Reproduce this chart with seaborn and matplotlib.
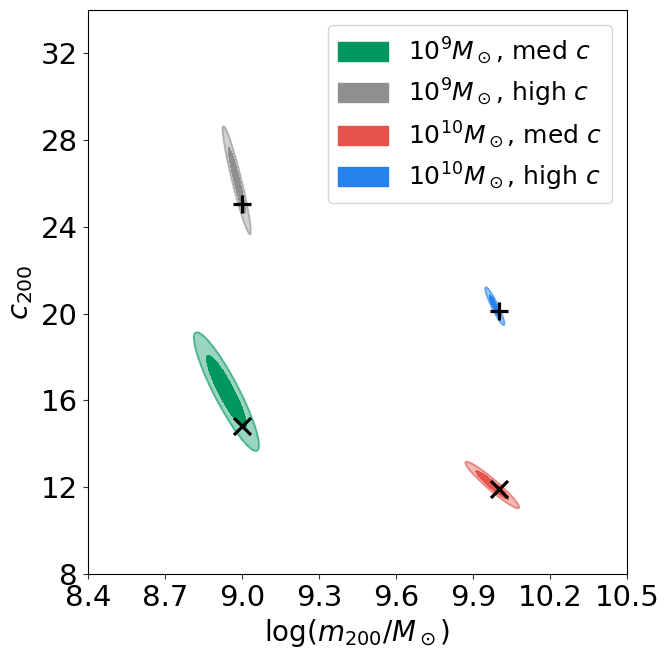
import numpy as np
import pandas as pd
import matplotlib
matplotlib.use("Agg")
import matplotlib.pyplot as plt
import matplotlib.patches as mpatches
import seaborn as sns

# posterior summaries per run (centre, widths, correlation)
labels = [r"$10^9M_\odot$, med $c$", r"$10^9M_\odot$, high $c$",
          r"$10^{10}M_\odot$, med $c$", r"$10^{10}M_\odot$, high $c$"]
colors = ["#00975f", "#8f8f8f", "#e5534b", "#2581eb"]
mean_logm = [8.94, 8.98, 9.975, 9.985]
mean_c = [16.4, 26.15, 12.1, 20.34]
sig_logm = [0.051, 0.022, 0.042, 0.015]
sig_c = [1.1, 1.0, 0.43, 0.35]
rho = [-0.905, -0.94, -0.955, -0.93]

# true input values
true_logm = [9.0, 9.0, 10.0, 10.0]
true_c = [14.8, 25.05, 11.9, 20.1]
true_kind = ["med", "high", "med", "high"]

# 68% and 95% levels of a 2D gaussian (mahalanobis distance squared)
levels = [2.30, 6.18]

xticks = [8.4, 8.7, 9.0, 9.3, 9.6, 9.9, 10.2, 10.5]
yticks = [8, 12, 16, 20, 24, 28, 32]


def mahalanobis_grid(mx, my, sx, sy, r, n=400):
    x = np.linspace(mx - 4 * sx, mx + 4 * sx, n)
    y = np.linspace(my - 4 * sy, my + 4 * sy, n)
    X, Y = np.meshgrid(x, y)
    u = (X - mx) / sx
    v = (Y - my) / sy
    d2 = (u ** 2 - 2 * r * u * v + v ** 2) / (1 - r ** 2)
    return X, Y, d2


sns.set_style("ticks")
plt.rcParams["font.family"] = ["DejaVu Sans"]
plt.rcParams["mathtext.fontset"] = "dejavusans"
plt.rcParams["axes.edgecolor"] = "black"
plt.rcParams["text.color"] = "black"
plt.rcParams["axes.labelcolor"] = "black"
plt.rcParams["xtick.color"] = "#333333"
plt.rcParams["ytick.color"] = "#333333"

fig = plt.figure(figsize=(6.65, 6.65), dpi=100)
ax = fig.add_axes([0.132, 0.137, 0.811, 0.848])

for i in range(len(labels)):
    X, Y, d2 = mahalanobis_grid(mean_logm[i], mean_c[i], sig_logm[i], sig_c[i], rho[i])
    ax.contourf(X, Y, d2, levels=[0, levels[1]], colors=[colors[i]], alpha=0.4)
    ax.contour(X, Y, d2, levels=[levels[1]], colors=[colors[i]], alpha=0.5, linewidths=1.5)
    ax.contourf(X, Y, d2, levels=[0, levels[0]], colors=[colors[i]], alpha=1.0)

truth = pd.DataFrame({"logm": true_logm, "c": true_c, "kind": true_kind})
sns.scatterplot(data=truth[truth["kind"] == "med"], x="logm", y="c", marker="x",
                color="black", s=150, linewidth=2.3, ax=ax, zorder=5)
sns.scatterplot(data=truth[truth["kind"] == "high"], x="logm", y="c", marker="+",
                color="black", s=180, linewidth=2.3, ax=ax, zorder=5)

ax.set_xlim(8.4, 10.5)
ax.set_ylim(8, 34)
ax.set_xticks(xticks)
ax.set_xticklabels([f"{t:.1f}" for t in xticks])
ax.set_yticks(yticks)
ax.tick_params(labelsize=21, labelcolor="black")
ax.set_xlabel(r"$\log(m_{200}/M_\odot)$", fontsize=20)
ax.set_ylabel(r"$c_{200}$", fontsize=21)

handles = [mpatches.Patch(facecolor=c, edgecolor=c, alpha=1.0, label=l)
           for c, l in zip(colors, labels)]
ax.legend(handles=handles, loc="upper right", fontsize=18, frameon=True,
          handlelength=2.0, handleheight=0.8, labelspacing=0.4,
          borderaxespad=0.6, handletextpad=0.8)

fig.savefig("out.png", dpi=100)
